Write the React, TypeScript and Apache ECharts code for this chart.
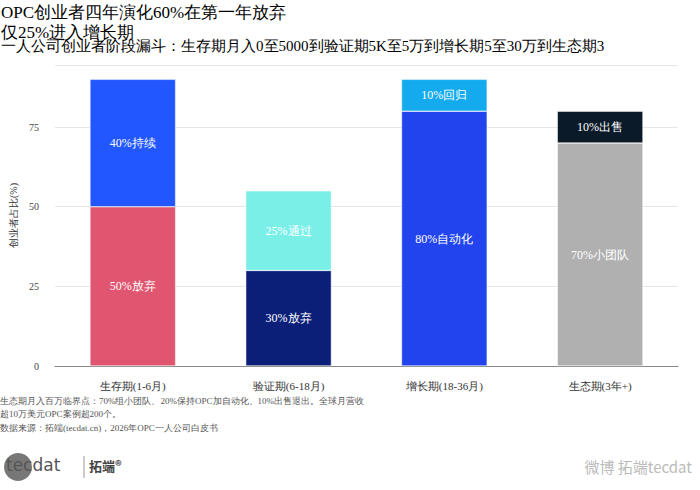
import React, { useEffect, useRef } from "react";
import * as echarts from "echarts";

const categories = ["生存期(1-6月)", "验证期(6-18月)", "增长期(18-36月)", "生态期(3年+)"];
const bottomValues = [50, 30, 80, 70];
const bottomLabels = ["50%放弃", "30%放弃", "80%自动化", "70%小团队"];
const bottomColors = ["#e0556f", "#0b1f78", "#2244ee", "#b0b0b0"];
const topValues = [40, 25, 10, 10];
const topLabels = ["40%持续", "25%通过", "10%回归", "10%出售"];
const topColors = ["#2257ff", "#7aefe8", "#13aaee", "#0b1a28"];
const yTicks = [0, 25, 50, 75];

export default function App() {
  const ref = useRef<HTMLDivElement>(null);
  useEffect(() => {
    const chart = echarts.init(ref.current!, null, { renderer: "svg" });
    const font = "serif";
    chart.setOption({
      animation: false,
      textStyle: { fontFamily: font },
      grid: { left: 48, right: 22, top: 65, bottom: 124 },
      title: [
        { text: "OPC创业者四年演化60%在第一年放弃\n仅25%进入增长期", left: -4, top: -3, textStyle: { fontSize: 17, fontWeight: "normal", color: "#000", lineHeight: 20, fontFamily: font } },
        { text: "一人公司创业者阶段漏斗：生存期月入0至5000到验证期5K至5万到增长期5至30万到生态期3", left: -4, top: 33, textStyle: { fontSize: 15, fontWeight: "normal", color: "#000", fontFamily: font } },
      ],
      xAxis: {
        type: "category", data: categories,
        axisLine: { show: true, lineStyle: { color: "#888" } }, axisTick: { show: false },
        axisLabel: { color: "#333", fontSize: 11, margin: 14 },
      },
      yAxis: {
        type: "value", min: 0, max: 94.5, interval: 25,
        name: "创业者占比(%)", nameLocation: "middle", nameGap: 34, nameTextStyle: { fontSize: 10, color: "#333" },
        axisLabel: { color: "#444", fontSize: 10, margin: 16, formatter: (v: number) => (yTicks.includes(v) ? String(v) : "") },
        splitLine: { lineStyle: { color: "#e6e6e6" } },
        axisLine: { show: false }, axisTick: { show: false },
      },
      series: [
        {
          type: "bar", stack: "a", barWidth: "55%",
          data: bottomValues.map((v, i) => ({ value: v, itemStyle: { color: bottomColors[i] }, label: { formatter: bottomLabels[i] } })),
          label: { show: true, position: "inside", fontSize: 12, color: "#fff" },
          itemStyle: { borderColor: "#fff", borderWidth: 0.5 },
        },
        {
          type: "bar", stack: "a", barWidth: "55%",
          data: topValues.map((v, i) => ({ value: v, itemStyle: { color: topColors[i] }, label: { formatter: topLabels[i] } })),
          label: { show: true, position: "inside", fontSize: 12, color: "#fff" },
          itemStyle: { borderColor: "#fff", borderWidth: 0.5 },
        },
      ],
      graphic: [
        { type: "text", left: 0, top: 394, style: { text: "生态期月入百万临界点：70%组小团队、20%保持OPC加自动化、10%出售退出。全球月营收\n超10万美元OPC案例超200个。", fontSize: 9, lineHeight: 13, fill: "#555", fontFamily: font } },
        { type: "text", left: 0, top: 423, style: { text: "数据来源：拓端(tecdat.cn)，2026年OPC一人公司白皮书", fontSize: 9, fill: "#555", fontFamily: font } },
        { type: "circle", shape: { cx: 18, cy: 467, r: 14 }, style: { fill: "#777" } },
        { type: "text", left: 6, top: 456, style: { text: "tecdat", fontSize: 17, fill: "#555", fontFamily: "DejaVu Sans" } },
        { type: "line", shape: { x1: 84, y1: 456, x2: 84, y2: 478 }, style: { stroke: "#999" } },
        { type: "text", left: 89, top: 459, style: { text: "拓端®", fontSize: 13, fill: "#444", fontWeight: "bold", fontFamily: "Noto Sans CJK SC" } },
        { type: "text", right: 8, top: 459, style: { text: "微博 拓端tecdat", fontSize: 15, fill: "#bbb", fontFamily: "Noto Sans CJK SC" } },
      ],
    });
    return () => chart.dispose();
  }, []);
  return <div ref={ref} style={{ width: 700, height: 490, position: "absolute", left: 0, top: 0 }} />;
}
